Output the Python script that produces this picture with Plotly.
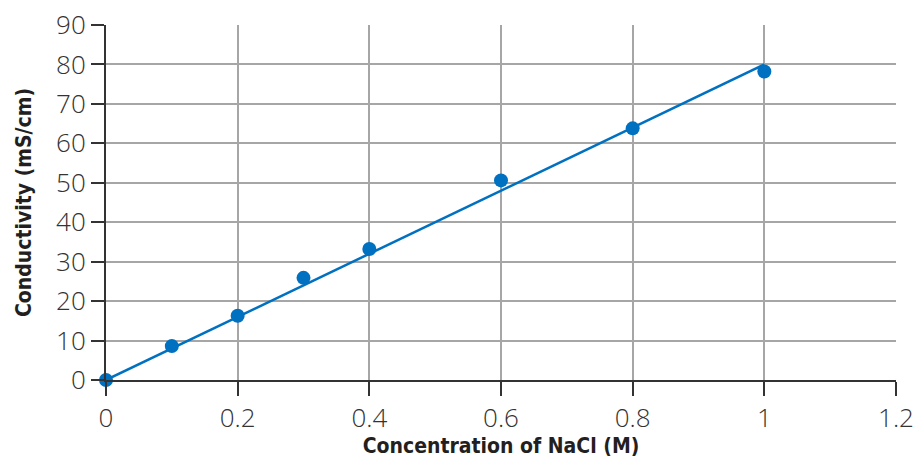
import plotly.graph_objects as go

# Measured conductivity of NaCl solutions
concentration = [0, 0.1, 0.2, 0.3, 0.4, 0.6, 0.8, 1.0]
conductivity = [0, 8.6, 16.3, 25.9, 33.2, 50.6, 63.8, 78.2]

# Best-fit line through the origin
fit_x = [0, 1.0]
fit_y = [0, 80]

x_ticks = [0, 0.2, 0.4, 0.6, 0.8, 1, 1.2]
x_tick_text = ["0", "0.2", "0.4", "0.6", "0.8", "1", "1.2"]
y_ticks = [0, 10, 20, 30, 40, 50, 60, 70, 80, 90]

blue = "#0070C0"
grid = "#A6A6A6"
axis_col = "#333333"

fig = go.Figure()
fig.add_trace(go.Scatter(
    x=fit_x, y=fit_y, mode="lines",
    line=dict(color=blue, width=2.5),
    cliponaxis=False, hoverinfo="skip",
))
fig.add_trace(go.Scatter(
    x=concentration, y=conductivity, mode="markers",
    marker=dict(color=blue, size=14),
    cliponaxis=False,
))

tick_font = dict(family="Open Sans", size=26, color="#333333", weight=300)
title_font = dict(family="DejaVu Sans Condensed, DejaVu Sans", size=21,
                  color="#231F20", weight="bold")

fig.update_layout(
    width=917, height=458,
    margin=dict(l=106, r=21, t=25, b=78),
    paper_bgcolor="white", plot_bgcolor="white",
    showlegend=False,
    xaxis=dict(
        range=[0, 1.2], tickvals=x_ticks, ticktext=x_tick_text,
        showgrid=True, gridcolor=grid, gridwidth=1.5,
        showline=True, linecolor=axis_col, linewidth=2,
        ticks="outside", ticklen=14, tickwidth=1.5, tickcolor=axis_col,
        tickfont=tick_font, zeroline=False, automargin=False,
        title=dict(text="Concentration of NaCl (M)", font=title_font, standoff=0),
    ),
    yaxis=dict(
        range=[0, 90], tickvals=y_ticks,
        showgrid=True, gridcolor=grid, gridwidth=1.5,
        showline=True, linecolor=axis_col, linewidth=2,
        ticks="outside", ticklen=13, tickwidth=1.5, tickcolor=axis_col,
        tickfont=tick_font, zeroline=False, automargin=False,
        title=dict(text="Conductivity (mS/cm)", font=title_font, standoff=19),
    ),
)

fig.write_html("out.html")
